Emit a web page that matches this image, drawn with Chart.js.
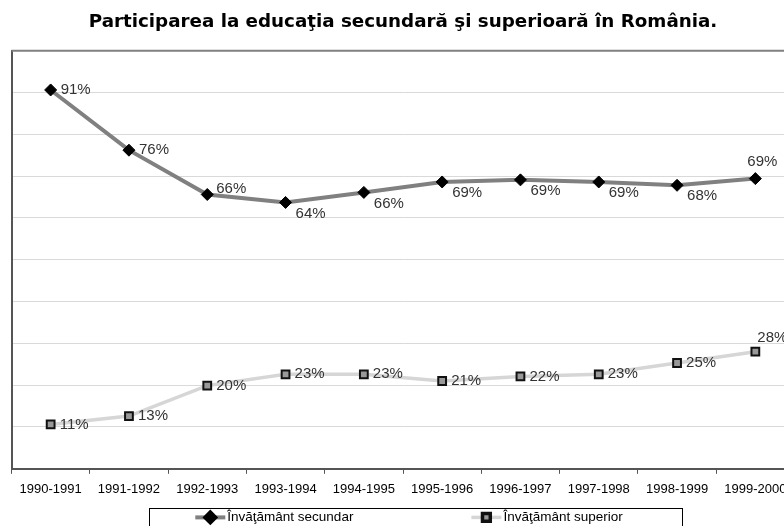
<!DOCTYPE html>
<html lang="ro">
<head>
<meta charset="utf-8">
<script src="https://cdn.jsdelivr.net/npm/chart.js@4.4.0/dist/chart.umd.min.js"></script>
<style>
  html, body { margin: 0; padding: 0; background: #fff; overflow: hidden; }
</style>
</head>
<body>
<canvas id="grafic" width="806" height="540"></canvas>
<script>
// date //
const aniScolari = ["1990-1991", "1991-1992", "1992-1993", "1993-1994", "1994-1995",
  "1995-1996", "1996-1997", "1997-1998", "1998-1999", "1999-2000"];
const invSecundar = [90.6, 76.2, 65.6, 63.7, 66.1, 68.6, 69.1, 68.6, 67.8, 69.4];
const invSuperior = [10.6, 12.6, 19.9, 22.6, 22.6, 21.0, 22.1, 22.6, 25.3, 28.0];
const numeSerii = ["Învăţământ secundar", "Învăţământ superior"];
const titlu = "Participarea la educaţia secundară şi superioară în România.";

const fontText = "'Liberation Sans', Arial, sans-serif";

// etichetele cu procente //
const eticheteProcent = {
  id: "eticheteProcent",
  afterDatasetsDraw(chart) {
    const ctx = chart.ctx;
    ctx.save();
    ctx.font = "15px " + fontText;
    ctx.fillStyle = "#333";
    ctx.textBaseline = "middle";
    ctx.textAlign = "left";
    chart.data.datasets.forEach((ds, d) => {
      const puncte = chart.getDatasetMeta(d).data;
      puncte.forEach((p, i) => {
        const poz = ds.pozEticheta(i, puncte.length);
        ctx.fillText(Math.round(ds.data[i]) + "%", p.x + poz.dx, p.y + poz.dy);
      });
    });
    ctx.restore();
  }
};

// chenarul de sus si din dreapta //
const chenarGrafic = {
  id: "chenarGrafic",
  beforeDatasetsDraw(chart) {
    const { left, right, top, bottom } = chart.chartArea;
    const ctx = chart.ctx;
    ctx.save();
    ctx.strokeStyle = "#808080";
    ctx.lineWidth = 2;
    ctx.beginPath();
    ctx.moveTo(left, top);
    ctx.lineTo(right, top);
    ctx.lineTo(right, bottom);
    ctx.stroke();
    ctx.restore();
  }
};

// legenda cu chenar //
const legendaCutie = {
  id: "legendaCutie",
  afterDraw(chart) {
    const ctx = chart.ctx;
    const { left, right } = chart.chartArea;
    const sus = chart.scales.x.bottom + 3;
    const mijloc = (left + right) / 2 + 6;
    ctx.save();
    ctx.font = "13.5px " + fontText;
    const latimi = chart.data.datasets.map(ds => 32 + ctx.measureText(ds.label).width);
    const spatiu = 118;
    let x = mijloc - (latimi[0] + latimi[1] + spatiu) / 2;

    ctx.strokeStyle = "#000";
    ctx.lineWidth = 1;
    ctx.strokeRect(Math.round(x - 46) + 0.5, Math.round(sus) + 0.5,
      Math.round(latimi[0] + latimi[1] + spatiu + 106), 40);

    const yMijloc = sus + 9;
    chart.data.datasets.forEach((ds, d) => {
      ctx.strokeStyle = ds.borderColor;
      ctx.lineWidth = ds.borderWidth;
      ctx.beginPath();
      ctx.moveTo(x, yMijloc);
      ctx.lineTo(x + 30, yMijloc);
      ctx.stroke();
      ctx.fillStyle = ds.pointBackgroundColor;
      ctx.strokeStyle = ds.pointBorderColor;
      Chart.helpers.drawPoint(ctx, {
        pointStyle: ds.pointStyle,
        radius: ds.pointStyle === "rect" ? ds.pointRadius : ds.pointRadius - 1,
        rotation: 0,
        borderWidth: ds.pointBorderWidth
      }, x + 15, yMijloc);
      ctx.fillStyle = "#000";
      ctx.textBaseline = "middle";
      ctx.fillText(ds.label, x + 32, yMijloc);
      x += latimi[d] + spatiu;
    });
    ctx.restore();
  }
};

new Chart(document.getElementById("grafic"), {
  type: "line",
  data: {
    labels: aniScolari,
    datasets: [{
      label: numeSerii[0],
      data: invSecundar,
      borderColor: "#808080",
      borderWidth: 4,
      pointStyle: "rectRot",
      pointRadius: 6,
      pointBackgroundColor: "#000",
      pointBorderColor: "#000",
      pointBorderWidth: 1,
      tension: 0,
      pozEticheta: (i, n) => {
        if (i === n - 1) return { dx: -8, dy: -17 };
        if (i < 2) return { dx: 10, dy: 0 };
        if (i === 2) return { dx: 9, dy: -6 };
        return { dx: 10, dy: 11 };
      }
    }, {
      label: numeSerii[1],
      data: invSuperior,
      borderColor: "#d6d6d6",
      borderWidth: 3.5,
      pointStyle: "rect",
      pointRadius: 5.5,
      pointBackgroundColor: "#999",
      pointBorderColor: "#111",
      pointBorderWidth: 2,
      tension: 0,
      pozEticheta: (i, n) => {
        if (i === n - 1) return { dx: 2, dy: -14 };
        return { dx: 9, dy: 0 };
      }
    }]
  },
  options: {
    responsive: false,
    animation: false,
    layout: {
      padding: { left: 11.5, right: 11.5, top: 0, bottom: 34.6 }
    },
    plugins: {
      legend: { display: false },
      tooltip: { enabled: false },
      title: {
        display: true,
        text: titlu,
        color: "#000",
        font: { family: "'DejaVu Sans'", size: 18.3, weight: "bold" },
        padding: { top: 11, bottom: 17.7 }
      }
    },
    scales: {
      x: {
        offset: true,
        grid: {
          offset: true,
          drawOnChartArea: false,
          color: "#555",
          tickLength: 5
        },
        border: { color: "#555", width: 2 },
        ticks: {
          color: "#000",
          font: { family: fontText, size: 13 },
          padding: 8,
          maxRotation: 0,
          autoSkip: false
        }
      },
      y: {
        min: 0,
        max: 100,
        ticks: { display: false, stepSize: 10 },
        grid: {
          drawTicks: false,
          color: (c) => (c.tick && (c.tick.value === 0 || c.tick.value === 100)) ? "rgba(0,0,0,0)" : "#d9d9d9"
        },
        border: { color: "#555", width: 2 }
      }
    }
  },
  plugins: [chenarGrafic, eticheteProcent, legendaCutie]
});
</script>
</body>
</html>
